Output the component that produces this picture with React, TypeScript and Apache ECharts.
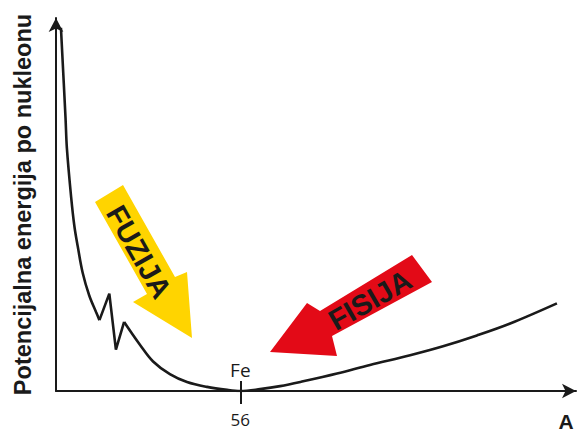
import React, { useEffect, useRef } from "react";
import * as echarts from "echarts";

// Schematic curve of potential energy per nucleon vs. mass number A
const leftA = [1.5, 2.9, 3.3, 4.6, 5.6, 6.6, 8.1, 10.1, 12.2, 13.2];
const leftE = [97.4, 73.1, 65.2, 52.0, 44.1, 38.8, 31.7, 25.6, 21.1, 19.0];
const spikeA = [13.2, 16.2, 18.2, 20.7];
const spikeE = [19.0, 26.1, 11.1, 18.5];
const rightA = [20.7, 25.5, 29.5, 34.6, 39.8, 45.9, 52, 56, 62, 68.1, 75.1, 85.4, 95.4, 107.6, 117.6, 127.9, 138, 152.2];
const rightE = [18.5, 12.4, 7.9, 4.5, 2.4, 1.1, 0.3, 0, 0.5, 1.3, 2.6, 4.7, 7.0, 9.6, 12.0, 14.9, 18.1, 23.5];
const tickValues = [56];
const ironA = 56;
const ironLabel = "Fe";
const xName = "A";
const yName = "Potencijalna energija po nukleonu";
const fusionText = "FUZIJA";
const fissionText = "FISIJA";

const zip = (xs: number[], ys: number[]) => xs.map((x, i) => [x, ys[i]]);

export default function App() {
  const ref = useRef<HTMLDivElement>(null);
  useEffect(() => {
    if (!ref.current) return;
    const chart = echarts.init(ref.current, null, { renderer: "svg" });
    const ink = "#1a1a1a";
    const lineStyle = { color: ink, width: 2.6 };
    const base = {
      type: "line" as const,
      showSymbol: false,
      symbol: "none",
      lineStyle,
      xAxisIndex: 0,
      yAxisIndex: 0,
    };
    chart.setOption({
      animation: false,
      backgroundColor: "#ffffff",
      grid: { left: 56, right: 8, top: 18, bottom: 35 },
      xAxis: [
        {
          type: "value",
          min: 0,
          max: 158,
          position: "bottom",
          name: xName,
          nameLocation: "end",
          nameGap: -10,
          nameTextStyle: {
            fontFamily: "Liberation Sans",
            fontWeight: "bold",
            fontSize: 21,
            color: ink,
            align: "center",
            verticalAlign: "top",
            padding: [20, 0, 0, 0],
          },
          axisLine: {
            show: true,
            symbol: ["none", "arrow"],
            symbolSize: [11, 14],
            lineStyle: { color: ink, width: 2 },
          },
          axisTick: { show: true, customValues: tickValues, length: 13, lineStyle: { color: ink, width: 2 } },
          axisLabel: {
            show: true,
            customValues: tickValues,
            margin: 20,
            fontFamily: "Open Sans",
            fontSize: 17,
            color: ink,
          },
          splitLine: { show: false },
        },
        {
          type: "value",
          min: 0,
          max: 158,
          position: "bottom",
          offset: 0,
          axisLine: { show: false },
          axisTick: { show: true, inside: true, customValues: tickValues, length: 10, lineStyle: { color: ink, width: 2 } },
          axisLabel: { show: false },
          splitLine: { show: false },
        },
      ],
      yAxis: {
        type: "value",
        min: 0,
        max: 100,
        name: yName,
        nameLocation: "middle",
        nameRotate: 90,
        nameGap: 21,
        nameTextStyle: {
          fontFamily: "Liberation Sans",
          fontWeight: "bold",
          fontSize: 23.5,
          color: ink,
        },
        axisLine: {
          show: true,
          symbol: ["none", "arrow"],
          symbolSize: [11, 14],
          lineStyle: { color: ink, width: 2 },
        },
        axisTick: { show: false },
        axisLabel: { show: false },
        splitLine: { show: false },
      },
      series: [
        { ...base, smooth: 0.35, data: zip(leftA, leftE) },
        { ...base, smooth: false, data: zip(spikeA, spikeE) },
        {
          ...base,
          smooth: 0.35,
          data: zip(rightA, rightE),
          markPoint: {
            symbol: "circle",
            symbolSize: 1,
            itemStyle: { color: "rgba(0,0,0,0)" },
            label: {
              show: true,
              position: "top",
              distance: 11,
              formatter: ironLabel,
              fontFamily: "Open Sans",
              fontSize: 19,
              color: ink,
            },
            data: [{ coord: [ironA, 0] }],
          },
        },
      ],
      graphic: [
        {
          type: "polygon",
          shape: {
            points: [
              [95, 202],
              [123, 185],
              [175, 277],
              [187, 272],
              [192, 338],
              [133, 302],
              [147, 294],
            ],
          },
          style: { fill: "#FFD400" },
        },
        {
          type: "text",
          x: 139,
          y: 252,
          rotation: (-60.5 * Math.PI) / 180,
          style: {
            text: fusionText,
            fill: ink,
            font: "bold 29px 'Liberation Sans'",
            align: "center",
            verticalAlign: "middle",
          },
        },
        {
          type: "polygon",
          shape: {
            points: [
              [412, 255],
              [432, 282],
              [332, 336],
              [337, 356],
              [270, 352],
              [307, 303],
              [320, 311],
            ],
          },
          style: { fill: "#E30A17" },
        },
        {
          type: "text",
          x: 370,
          y: 300,
          rotation: (30 * Math.PI) / 180,
          style: {
            text: fissionText,
            fill: ink,
            font: "bold 29px 'Liberation Sans'",
            align: "center",
            verticalAlign: "middle",
          },
        },
      ],
    });
    return () => chart.dispose();
  }, []);
  return (
    <div
      ref={ref}
      style={{ position: "fixed", left: 0, top: 0, width: 584, height: 432 }}
    />
  );
}
